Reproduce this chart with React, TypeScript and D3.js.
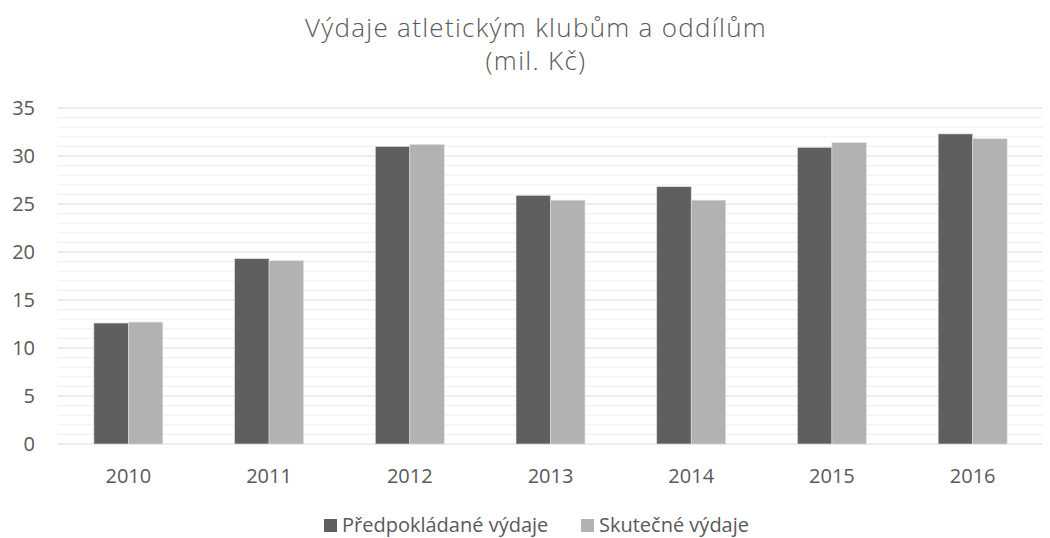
import React from "react";
import * as d3 from "d3";

const years = ["2010", "2011", "2012", "2013", "2014", "2015", "2016"];
const planned = [12.6, 19.3, 31.0, 25.9, 26.8, 30.9, 32.3];
const actual = [12.7, 19.1, 31.2, 25.4, 25.4, 31.4, 31.8];
const seriesNames = ["Předpokládané výdaje", "Skutečné výdaje"];
const seriesColors = ["#5f5f5f", "#b2b2b2"];
const yTicks = [0, 5, 10, 15, 20, 25, 30, 35];
const titleLines = ["Výdaje atletickým klubům a oddílům", "(mil. Kč)"];

const W = 1050;
const H = 538;
const left = 58;
const right = 1043;
const top = 108;
const bottom = 444;
const font = "'Open Sans', 'Noto Sans', sans-serif";

export default function App() {
  const x = d3.scaleBand<string>().domain(years).range([left, right]).paddingInner(0).paddingOuter(0);
  const y = d3.scaleLinear().domain([0, 35]).range([bottom, top]);
  const inner = d3
    .scaleBand<string>()
    .domain(["0", "1"])
    .range([0, x.bandwidth() * 0.49]);
  const offset = (x.bandwidth() - x.bandwidth() * 0.49) / 2;
  const minor = d3.range(0, 36, 1).filter((v) => v % 5 !== 0);
  const series = [planned, actual];

  return (
    <svg
      width={W}
      height={H}
      style={{ position: "absolute", left: 0, top: 0, background: "#fff" }}
      fontFamily={font}
    >
      <rect x={0} y={0} width={W} height={H} fill="#fff" />
      {titleLines.map((t, i) => (
        <text
          key={t}
          x={536}
          y={37 + i * 33}
          textAnchor="middle"
          fontSize={26}
          fontWeight={300}
          fill="#595959"
          letterSpacing={1.3}
        >
          {t}
        </text>
      ))}
      {minor.map((v) => (
        <line key={"m" + v} x1={left} x2={right} y1={y(v)} y2={y(v)} stroke="#f0f0f0" strokeWidth={1} />
      ))}
      {yTicks.map((v) => (
        <line key={"g" + v} x1={left} x2={right} y1={y(v)} y2={y(v)} stroke="#d9d9d9" strokeWidth={1} />
      ))}
      {yTicks.map((v) => (
        <text key={"t" + v} x={35} y={y(v)} dy="0.36em" textAnchor="end" fontSize={20} fill="#595959">
          {v}
        </text>
      ))}
      {years.map((yr, i) => (
        <g key={yr} transform={`translate(${x(yr)! + offset},0)`}>
          {series.map((s, j) => (
            <rect
              key={j}
              x={inner(String(j))!}
              y={y(s[i])}
              width={inner.bandwidth()}
              height={y(0) - y(s[i])}
              fill={seriesColors[j]}
              stroke="#e0e0e0"
              strokeWidth={0.6}
            />
          ))}
        </g>
      ))}
      {years.map((yr) => (
        <text
          key={"x" + yr}
          x={x(yr)! + x.bandwidth() / 2}
          y={483}
          textAnchor="middle"
          fontSize={20}
          fill="#595959"
        >
          {yr}
        </text>
      ))}
      {seriesNames.map((n, j) => {
        const lx = [324, 581][j];
        return (
          <g key={n}>
            <rect x={lx} y={519} width={13} height={13} fill={seriesColors[j]} />
            <text x={lx + 18} y={532} fontSize={20} fill="#595959">
              {n}
            </text>
          </g>
        );
      })}
    </svg>
  );
}
